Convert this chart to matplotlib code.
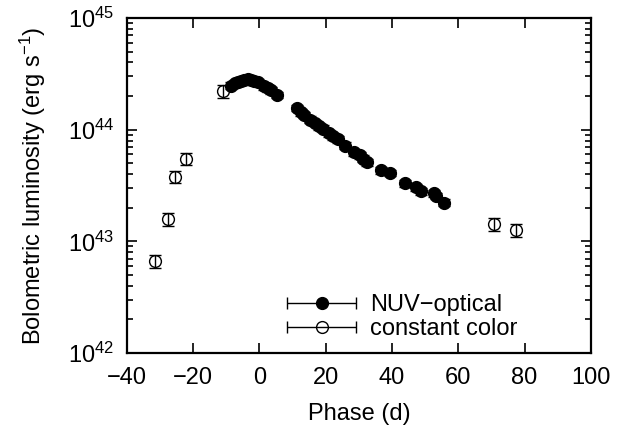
import numpy as np
import matplotlib
matplotlib.use("Agg")
import matplotlib.pyplot as plt
from matplotlib.ticker import LogLocator, MultipleLocator, NullFormatter
from matplotlib.container import ErrorbarContainer
from matplotlib.legend_handler import HandlerErrorbar

plt.rcParams['font.family'] = ['Liberation Sans', 'DejaVu Sans']
plt.rcParams['mathtext.fontset'] = 'custom'
plt.rcParams['mathtext.rm'] = 'Liberation Sans'
plt.rcParams['mathtext.it'] = 'Liberation Sans:italic'

# NUV-optical bolometric light curve (filled)
faze_nuv = [-8.5, -7.5, -6.5, -5.5, -4.5, -3.5, -2.5, -1.5, -0.5, 1.5, 2.5, 3.5, 5.2,
            11.2, 12.6, 13.6, 15.4, 16.7, 18.0, 19.2, 21.0, 22.3, 23.6, 25.9,
            28.4, 30.2, 31.4, 32.6, 36.6, 39.3, 44.0, 47.3, 48.7, 52.8, 53.2, 55.8]
lum_nuv = [2.48, 2.6, 2.68, 2.75, 2.8, 2.82, 2.8, 2.74, 2.66, 2.45, 2.35, 2.25, 2.05,
           1.57, 1.44, 1.36, 1.23, 1.15, 1.07, 1.02, 0.93, 0.87, 0.82, 0.72,
           0.63, 0.59, 0.55, 0.51, 0.435, 0.41, 0.33, 0.305, 0.28, 0.27, 0.255, 0.222]
kluda_nuv = 0.07  # relativa kluda

# constant color (open)
faze_cc = [-31.5, -27.6, -25.5, -22.2, -11.0, 70.7, 77.4]
lum_cc = [0.067, 0.158, 0.38, 0.55, 2.22, 0.143, 0.126]
kluda_cc = 0.13

lum_nuv = np.array(lum_nuv) * 1e44
lum_cc = np.array(lum_cc) * 1e44

fs = 17

fig = plt.figure(figsize=(6.34, 4.30), dpi=100)
ax = fig.add_axes([0.200, 0.179, 0.732, 0.779])

ax.errorbar(faze_nuv, lum_nuv, yerr=lum_nuv * kluda_nuv, fmt='o', color='black',
            ms=8.5, elinewidth=1, capsize=4, capthick=1, zorder=3)
ax.errorbar(faze_cc, lum_cc, yerr=lum_cc * kluda_cc, fmt='o', color='black', mfc='none',
            mew=1, ms=8.5, elinewidth=1, capsize=4, capthick=1, zorder=3)

ax.set_yscale('log')
ax.set_xlim(-40, 100)
ax.set_ylim(1e42, 1e45)
ax.xaxis.set_major_locator(MultipleLocator(20))
ax.yaxis.set_major_locator(LogLocator(base=10, numticks=10))
ax.yaxis.set_minor_locator(LogLocator(base=10, subs=np.arange(2, 10), numticks=10))
ax.yaxis.set_minor_formatter(NullFormatter())

ax.tick_params(which='both', direction='in', top=True, right=True, labelsize=fs, width=1.2)
ax.tick_params(which='major', length=7)
ax.tick_params(axis='x', which='major', pad=10)
ax.tick_params(axis='y', which='major', pad=9)
ax.tick_params(which='minor', length=4)
for s in ax.spines.values():
    s.set_linewidth(1.6)

ax.set_xlabel('Phase (d)', fontsize=fs, labelpad=10)
ax.set_ylabel('Bolometric luminosity (erg s$^{-1}$)', fontsize=fs, labelpad=14)

# legend ar horizontalam kludam
h1 = ax.errorbar(np.nan, np.nan, xerr=1, fmt='o', color='black', ms=8.5, capsize=4, elinewidth=1)
h2 = ax.errorbar(np.nan, np.nan, xerr=1, fmt='o', color='black', mfc='none', ms=8.5,
                 capsize=4, elinewidth=1)
ax.legend([h1, h2], ['NUV\u2212optical', 'constant color'], loc='lower left',
          bbox_to_anchor=(0.30, -0.025), frameon=False, fontsize=fs, handlelength=2.9,
          handletextpad=0.6, labelspacing=0.1,
          handler_map={ErrorbarContainer: HandlerErrorbar(xerr_size=1.45)})

fig.savefig('out.png', dpi=100)
